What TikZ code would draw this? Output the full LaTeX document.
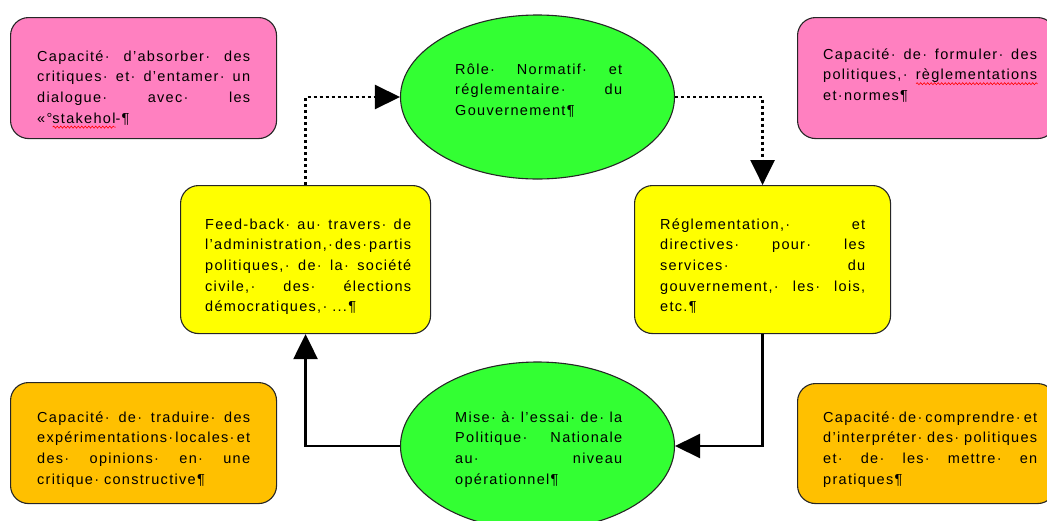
\documentclass[tikz,border=0pt]{standalone}
\usepackage{fontspec}
\setmainfont{Liberation Sans}[LetterSpace=9]
\usetikzlibrary{arrows.meta,shapes.geometric,decorations.pathmorphing}
\definecolor{pinkf}{HTML}{FF80C0}
\definecolor{greenf}{HTML}{33FF33}
\definecolor{yellowf}{HTML}{FFFF00}
\definecolor{orangef}{HTML}{FFC000}
\newcommand\jl[1]{\noindent\hbox to \hsize{\spaceskip=0.12em plus 40em\relax\xspaceskip=\spaceskip #1}}
\newcommand\redwave[1]{\setbox0\hbox{#1}\rlap{\tikz[baseline=0pt]{\path (0pt,0pt);\draw[red, line width=0.6pt, decorate, decoration={snake, amplitude=1pt, segment length=3.5pt}] (0pt,-4pt) -- (\wd0,-4pt);}}\box0}
\hbadness=10000 \hfuzz=30pt
\begin{document}
\begin{tikzpicture}[x=1pt,y=-1pt,
  box/.style={draw=black!85, line width=1.1pt, rounded corners=18pt, inner sep=0pt, anchor=north west},
  ell/.style={draw=black!85, line width=1.1pt, ellipse, inner sep=0pt, minimum width=274pt},
  txt/.style={anchor=base west, inner sep=0pt, align=left, text width=#1,
    font={\fontsize{14.5}{20.7}\selectfont}},
  conn/.style={line width=2.5pt, -{Triangle[length=25pt,width=24pt]}},
  dots/.style={conn, dash pattern=on 3pt off 3pt}
]
\useasboundingbox (0,0) rectangle (1047,520);
% boxes
\node[box, fill=pinkf, minimum width=266pt, minimum height=121pt] (p1) at (10,17) {};
\node[box, fill=pinkf, minimum width=258pt, minimum height=121pt] (p2) at (797,17) {};
\node[box, fill=yellowf, minimum width=250pt, minimum height=148pt] (fl) at (180,185) {};
\node[box, fill=yellowf, minimum width=256pt, minimum height=148pt] (fr) at (634,185) {};
\node[box, fill=orangef, minimum width=266pt, minimum height=121pt] (o1) at (10,382) {};
\node[box, fill=orangef, minimum width=258pt, minimum height=120pt] (o2) at (797,383) {};
\node[ell, fill=greenf, minimum height=164pt] (top) at (537.5,97) {};
\node[ell, fill=greenf, minimum height=168pt] (bot) at (537.5,446) {};
% connectors
\draw[dots] (fl.north) |- (top.west);
\draw[dots] (top.east) -| (fr.north);
\draw[conn] (fr.south) |- (bot.east);
\draw[conn] (bot.west) -| (fl.south);
% texts
\node[txt=213pt] (t1) at (37,61) {\jl{Capacité· d'absorber· des}\\
\jl{critiques· et· d'entamer· un}\\
\jl{dialogue· avec· les}\\
«°\redwave{stakehol}-¶};
\node[txt=214pt] (t2) at (823,59) {\jl{Capacité· de· formuler· des}\\
\jl{politiques,· \redwave{règlementations}}\\
et·normes¶};
\node[txt=167pt] (t3) at (455,74) {\jl{Rôle· Normatif· et}\\
\jl{réglementaire· du}\\
Gouvernement¶};
\node[txt=206pt] (t4) at (205,229) {\jl{Feed-back· au· travers· de}\\
\jl{l'administration,· des· partis}\\
\jl{politiques,· de· la· société}\\
\jl{civile,· des· élections}\\
démocratiques,· ...¶};
\node[txt=205pt] (t5) at (660,229) {\jl{Réglementation,· et}\\
\jl{directives· pour· les}\\
\jl{services· du}\\
\jl{gouvernement,· les· lois,}\\
etc.¶};
\node[txt=213pt] (t6) at (37,422) {\jl{Capacité· de· traduire· des}\\
\jl{expérimentations· locales· et}\\
\jl{des· opinions· en· une}\\
critique· constructive¶};
\node[txt=167pt] (t7) at (455,422) {\jl{Mise· à· l'essai· de· la}\\
\jl{Politique· Nationale}\\
\jl{au· niveau}\\
opérationnel¶};
\node[txt=214pt] (t8) at (823,422) {\jl{Capacité· de· comprendre· et}\\
\jl{d'interpréter· des· politiques}\\
\jl{et· de· les· mettre· en}\\
pratiques¶};
\end{tikzpicture}
\end{document}
